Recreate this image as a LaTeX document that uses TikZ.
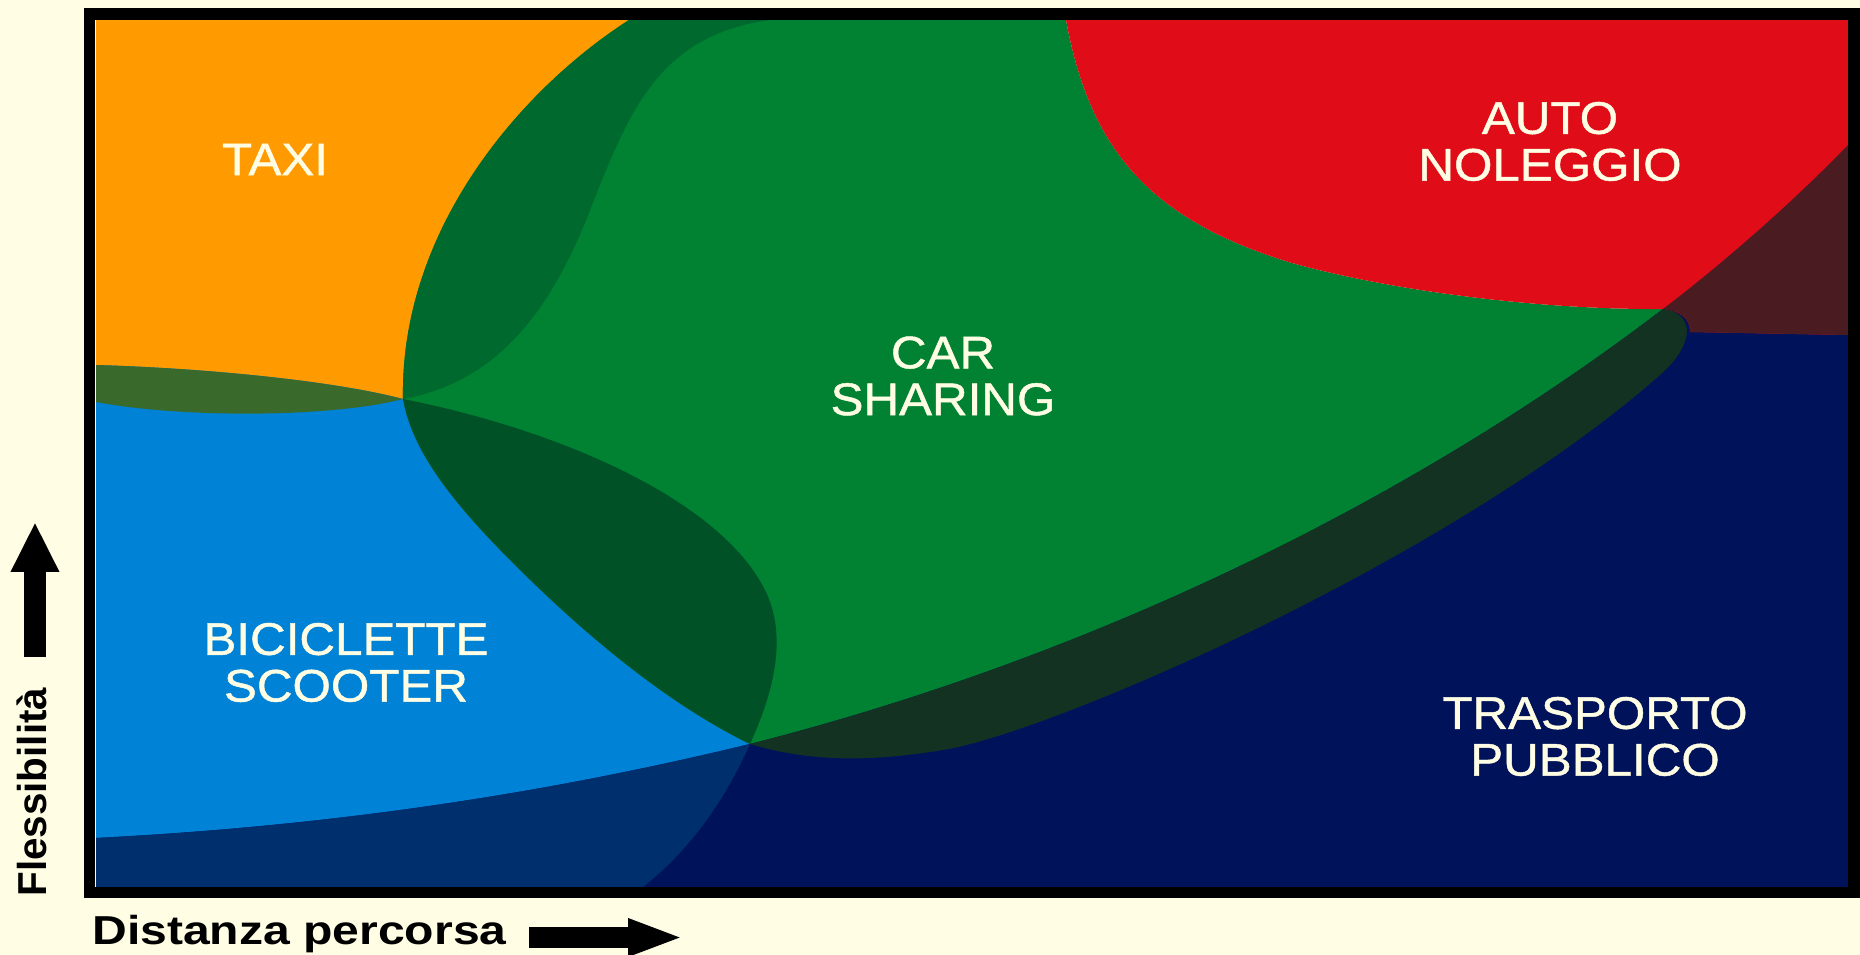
\documentclass[tikz,border=0pt]{standalone}
\usepackage{fontspec}
\setmainfont{Liberation Sans}
\newfontfamily\areafont{Liberation Sans}[FakeStretch=1.08, FakeBold=1]
\newfontfamily\xaxisfont{Liberation Sans}[FakeStretch=1.19]
\newfontfamily\yaxisfont{Liberation Sans}
\usetikzlibrary{arrows.meta}

\definecolor{cream}{RGB}{255,253,228}
\definecolor{taxicol}{RGB}{255,154,0}
\definecolor{bikecol}{RGB}{0,130,214}
\definecolor{carcol}{RGB}{0,130,50}
\definecolor{rentcol}{RGB}{224,12,24}
\definecolor{publiccol}{RGB}{0,19,90}
\definecolor{taxibike}{RGB}{58,106,43}
\definecolor{taxicar}{RGB}{0,106,46}
\definecolor{bikecar}{RGB}{0,82,38}
\definecolor{bikepublic}{RGB}{0,47,110}
\definecolor{carpublic}{RGB}{19,50,34}
\definecolor{rentpublic}{RGB}{74,28,34}

% areas, in pixel units
\newcommand{\taxiarea}{(96,20) -- (770,20)
  .. controls (660,35) and (630,110) .. (594,200)
  .. controls (560,290) and (510,380) .. (403,399)
  .. controls (330,418) and (180,418) .. (96,402) -- cycle}
\newcommand{\bikearea}{(96,887) -- (96,365)
  .. controls (200,368) and (330,380) .. (403,399)
  .. controls (560,430) and (720,500) .. (765,590)
  .. controls (790,640) and (770,700) .. (750,744)
  .. controls (725,800) and (690,850) .. (643,887) -- cycle}
\newcommand{\cararea}{(629,20)
  .. controls (520,90) and (400,230) .. (403,399)
  .. controls (412,450) and (450,500) .. (513,563)
  .. controls (600,650) and (680,710) .. (750,744)
  .. controls (810,762) and (870,762) .. (943,750)
  .. controls (1050,733) and (1450,560) .. (1660,375)
  .. controls (1690,349) and (1700,315) .. (1663,309)
  .. controls (1550,310) and (1400,293) .. (1292,263)
  .. controls (1150,220) and (1090,150) .. (1066,20) -- cycle}
\newcommand{\publicarea}{(96,887) -- (96,838)
  .. controls (350,825) and (560,790) .. (750,744)
  .. controls (1100,655) and (1420,495) .. (1663,309)
  .. controls (1730,258) and (1800,195) .. (1848,145)
  -- (1848,887) -- cycle}
\newcommand{\rentarea}{(1066,20)
  .. controls (1090,150) and (1150,220) .. (1292,263)
  .. controls (1400,293) and (1550,310) .. (1663,309)
  .. controls (1685,312) and (1690,322) .. (1690,332)
  -- (1848,335) -- (1848,20) -- cycle}

\begin{document}
\begin{tikzpicture}[
    x=0.02cm, y=-0.02cm,
    area/.style={
        text=cream,
        font=\areafont\fontsize{26}{26.6}\selectfont,
        align=center,
        inner sep=0pt
    },
    axislabel/.style={
        font=\bfseries\fontsize{23}{27}\selectfont,
        inner sep=0pt
    },
    uparrow/.style={line width=0.46cm, -{Triangle[length=1cm, width=0.9cm]}},
    rightarrow/.style={line width=0.42cm, -{Triangle[length=1.12cm, width=0.68cm]}}
]

\useasboundingbox (0,0) rectangle (1860,955);
\fill[cream] (0,0) rectangle (1860,955);

% ===== Areas =====
\fill[taxicol]   \taxiarea;
\fill[bikecol]   \bikearea;
\fill[carcol]    \cararea;
\fill[publiccol] \publicarea;
\fill[rentcol]   \rentarea;

% ===== Overlaps =====
\begin{scope}
  \clip \taxiarea;
  \fill[taxibike] \bikearea;
  \fill[taxicar]  \cararea;
\end{scope}
\begin{scope}
  \clip \bikearea;
  \fill[bikecar]    \cararea;
  \fill[bikepublic] \publicarea;
\end{scope}
\begin{scope}
  \clip \publicarea;
  \fill[rentpublic] \rentarea;
  \fill[carpublic]  \cararea;
\end{scope}

% ===== Frame =====
\draw[line width=0.24cm] (89.5,14) rectangle (1854,892.5);

% ===== Labels =====
\node[area] (taxi)       at (275,159.5)  {TAXI};
\node[area] (carsharing) at (943,376)    {CAR\\SHARING};
\node[area] (noleggio)   at (1550,141.5) {AUTO\\NOLEGGIO};
\node[area] (bici)       at (346,662.5)  {BICICLETTE\\SCOOTER};
\node[area] (trasporto)  at (1595,736.5) {TRASPORTO\\PUBBLICO};

% ===== Axes =====
\node[axislabel, font=\yaxisfont\bfseries\fontsize{23}{27}\selectfont,
      rotate=90, anchor=base west] (ylabel) at (47,897) {Flessibilità};
\node[axislabel, font=\xaxisfont\bfseries\fontsize{23}{27}\selectfont,
      anchor=base west] (xlabel) at (92,944) {Distanza percorsa};
\draw[uparrow] (35,657) -- (35,522);
\draw[rightarrow] (529,937.5) -- (684,937.5);

\end{tikzpicture}
\end{document}
